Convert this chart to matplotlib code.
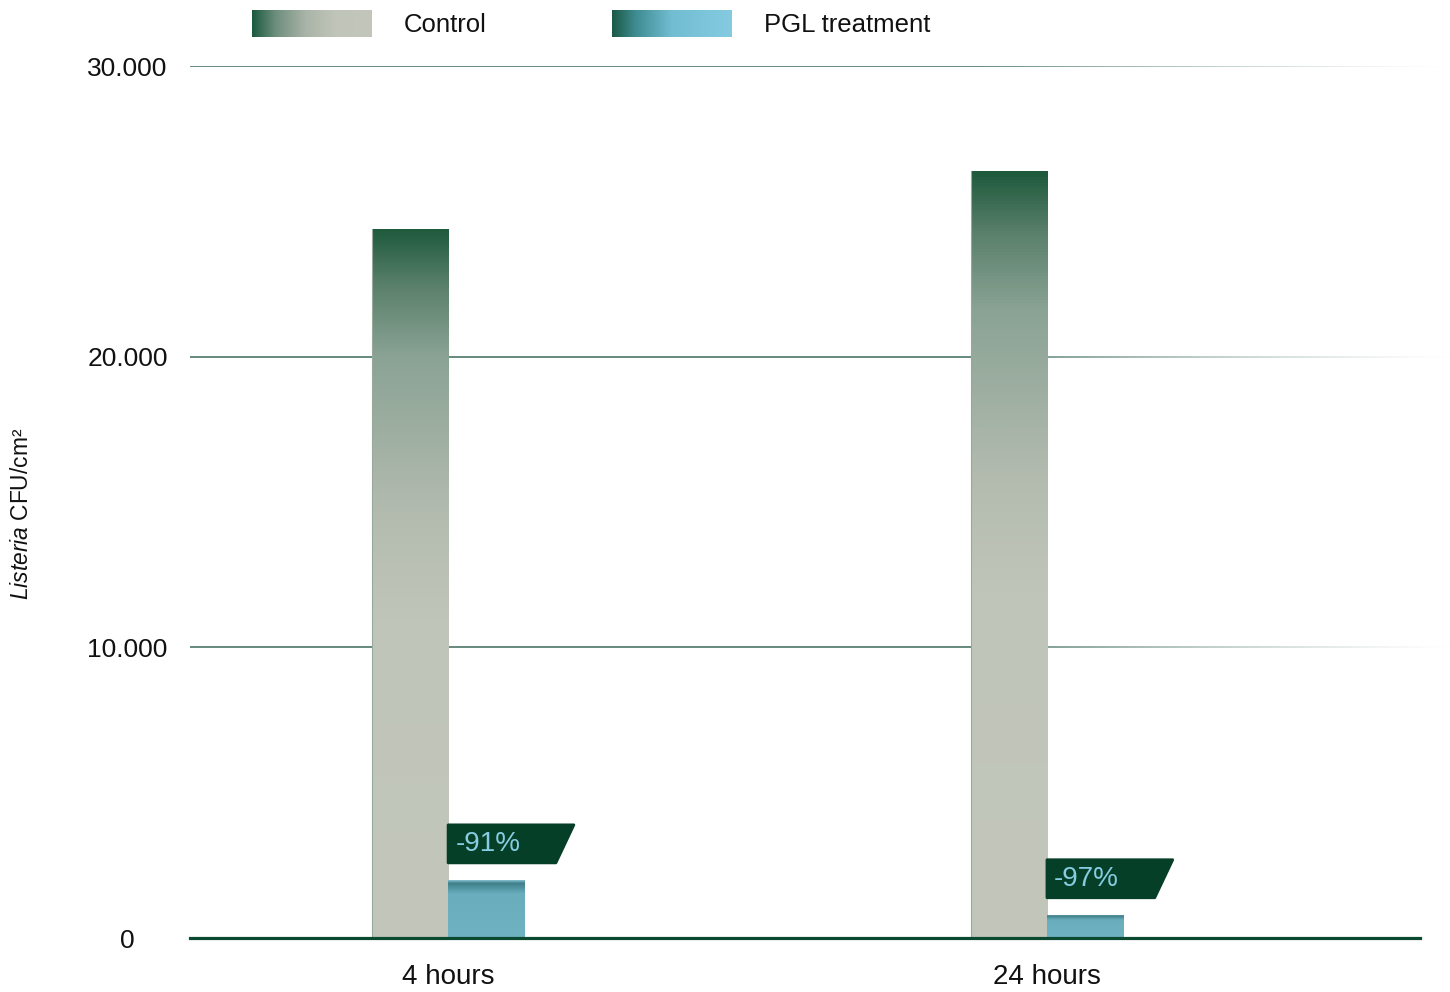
import numpy as np
import matplotlib
matplotlib.use("Agg")
import matplotlib.pyplot as plt
from matplotlib.colors import LinearSegmentedColormap
from matplotlib.collections import LineCollection
from matplotlib.patches import Polygon
import matplotlib.transforms as mtransforms

plt.rcParams['font.family'] = ['Liberation Sans', 'DejaVu Sans']
plt.rcParams['mathtext.fontset'] = 'custom'
plt.rcParams['mathtext.rm'] = 'Liberation Sans'
plt.rcParams['mathtext.it'] = 'Liberation Sans:italic'

# data
categories = ["4 hours", "24 hours"]
control = [24400, 26400]
pgl = [2000, 800]
reductions = ["-91%", "-97%"]
yticks = [0, 10000, 20000, 30000]
ytick_labels = ["0", "10.000", "20.000", "30.000"]

dark_green = "#0b4a30"
tag_green = "#063f28"
tag_text = "#86cde2"

ctrl_cmap = LinearSegmentedColormap.from_list(
    "ctrl", [(0, "#c3c7bb"), (0.45, "#c0c5b9"), (0.6, "#b3bbaf"), (0.82, "#8aa395"),
             (0.92, "#5a806b"), (1.0, "#1f5a3d")])
pgl_cmap = LinearSegmentedColormap.from_list(
    "pgl", [(0, "#6fb3c3"), (0.75, "#6aaebe"), (0.93, "#3e7f89"), (1.0, "#9fd6e6")])
ctrl_leg = LinearSegmentedColormap.from_list(
    "ctrl_leg", [(0, "#1a5a3e"), (0.2, "#6f8f7e"), (0.45, "#aab4a8"),
                 (0.7, "#c0c5b9"), (1.0, "#c3c7bb")])
pgl_leg = LinearSegmentedColormap.from_list(
    "pgl_leg", [(0, "#1a5a45"), (0.2, "#3f8c92"), (0.5, "#72bdd2"), (1.0, "#84cbe2")])

fig = plt.figure(figsize=(14.5, 9.92), dpi=100)
ax = fig.add_axes([190 / 1450, 54 / 992, 1260 / 1450, 872 / 992])

idx = np.arange(len(categories))
w = 0.127
grad = np.linspace(0, 1, 256).reshape(-1, 1)

# fading gridlines
trans = mtransforms.blended_transform_factory(ax.transAxes, ax.transData)
xs = np.linspace(0, 1, 301)
for yv in yticks[1:]:
    segs = [[(xs[i], yv), (xs[i + 1], yv)] for i in range(len(xs) - 1)]
    cols = []
    for i in range(len(xs) - 1):
        f = xs[i]
        a = 1.0 if f < 0.62 else max(0.0, 1 - (f - 0.62) / 0.38) ** 1.3
        cols.append((0.25, 0.43, 0.37, 0.95 * a))
    lc = LineCollection(segs, colors=cols, linewidths=1.2, transform=trans, zorder=1)
    ax.add_collection(lc)

# gradient bars
for i in idx:
    for val, x0, cmap in ((control[i], i - w, ctrl_cmap), (pgl[i], i, pgl_cmap)):
        rect = plt.Rectangle((x0, 0), w, val, facecolor="none", edgecolor="none")
        ax.add_patch(rect)
        im = ax.imshow(grad, cmap=cmap, origin="lower", aspect="auto",
                       extent=[x0, x0 + w, 0, val], zorder=2, interpolation="bilinear")
        im.set_clip_path(rect)
    ax.plot([i - w, i - w], [0, control[i]], color="#98a899", lw=0.8, zorder=3)

# reduction tags
for i in idx:
    yb = pgl[i] + 585
    h = 1307
    poly = Polygon([(i, yb), (i + 0.180, yb), (i + 0.210, yb + h), (i, yb + h)],
                   closed=True, facecolor=tag_green, edgecolor=tag_green,
                   lw=2, joinstyle="round", zorder=4)
    ax.add_patch(poly)
    ax.text(i + 0.012, yb + h / 2, reductions[i], color=tag_text, fontsize=20,
            ha="left", va="center", zorder=5)

ax.axhline(0, xmin=0, xmax=(1420 - 190) / 1260, color=dark_green, lw=2.3,
           zorder=6, clip_on=False)

ax.set_xlim(-0.431, 1.673)
ax.set_ylim(0, 30000)
for s in ax.spines.values():
    s.set_visible(False)
ax.set_yticks(yticks, ytick_labels)
ax.set_xticks(idx, categories)
ax.tick_params(axis="y", length=0, pad=45, labelsize=19, labelcolor="#111111")
ax.tick_params(axis="x", length=0, pad=19, labelsize=20, labelcolor="#111111")
for lab in ax.get_yticklabels():
    lab.set_ha("center")

fig.text(22 / 1450, 1 - 514 / 992, "$\\mathit{Listeria}$ CFU/cm²", rotation=90,
         ha="center", va="center", fontsize=16.4, color="#111111")

# legend
for left, cmap, label, tx in ((252, ctrl_leg, "Control", 404),
                              (612, pgl_leg, "PGL treatment", 764)):
    lax = fig.add_axes([left / 1450, 1 - 37 / 992, 120 / 1450, 27 / 992])
    lax.imshow(grad.T, cmap=cmap, aspect="auto", interpolation="bilinear")
    lax.axis("off")
    fig.text(tx / 1450, 1 - 25 / 992, label, ha="left", va="center",
             fontsize=18.5, color="#111111")

fig.savefig("out.png", dpi=100)
